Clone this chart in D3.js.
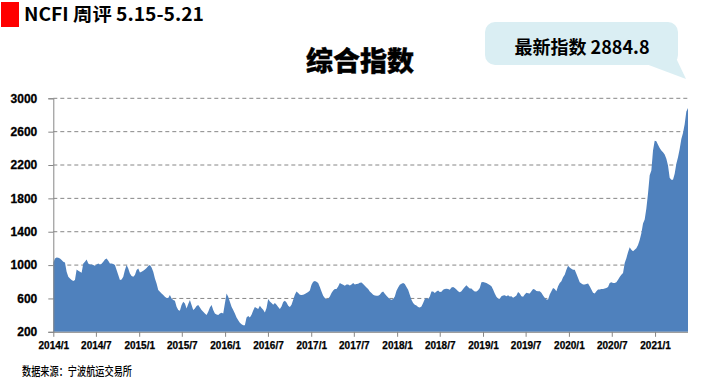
<!DOCTYPE html>
<html><head><meta charset="utf-8">
<script src="https://cdn.jsdelivr.net/npm/d3@7"></script>
<style>
html,body{margin:0;padding:0;background:#fff;}
svg{display:block;}
</style></head>
<body>
<svg id="c" width="726" height="384"></svg>
<script>
// ---------------- data ----------------
const headerTitle = "NCFI 周评 5.15-5.21";
const chartTitle = "综合指数";
const calloutText = "最新指数 2884.8";
const sourceText = "数据来源：宁波航运交易所";
const startDate = "2014-01-01";
const endDate = "2021-05-21";
const yTicks = [200, 600, 1000, 1400, 1800, 2200, 2600, 3000];
const xTickLabels = ["2014/1","2014/7","2015/1","2015/7","2016/1","2016/7","2017/1","2017/7","2018/1","2018/7","2019/1","2019/7","2020/1","2020/7","2021/1"];
// weekly composite index values
const values2014_2016 = [1030,1080,1092,1088,1080,1060,1040,1032,920,860,840,820,808,820,948,932,920,908,1020,1040,1068,1020,1008,1008,1000,992,1008,1020,1008,1016,1040,1068,1080,1052,1020,1020,1012,1000,940,880,820,828,860,940,1000,960,900,868,860,880,940,960,912,920,932,948,964,988,1000,972,920,840,780,700,680,660,640,620,604,604,640,600,580,572,500,460,452,520,560,540,480,532,580,520,460,480,508,520,492,460,440,420,400,440,492,520,460,420,408,400,420,428,420,540,660,620,560,500,460,420,372,340,308,292,280,280,372,388,372];
const values2016_2019 = [404,456,496,484,472,512,484,464,432,484,592,564,544,524,544,524,496,472,504,556,572,552,512,496,524,584,644,684,664,644,640,644,652,664,676,696,764,800,808,800,784,736,684,632,604,592,596,624,664,696,712,712,744,784,772,764,752,768,768,756,768,784,768,772,776,788,792,772,752,732,712,684,664,644,636,632,632,644,672,684,656,632,612,592,584,592,624,692,732,764,776,784,772,736,704,644,584,544,524,516,496,492,504,544,592,604,592,624,684,684,664,684,696,676,680,704,712,716,712,704];
const values2019_2021 = [730,738,726,706,686,674,686,714,738,758,738,718,718,698,682,682,698,726,794,798,790,786,774,762,746,706,659,619,595,595,627,635,639,627,639,623,627,607,619,635,678,659,627,619,647,667,663,659,686,714,706,690,686,686,667,635,607,587,587,647,686,726,714,686,746,786,805,853,885,944,992,972,956,944,944,897,845,794,778,766,766,774,778,746,706,667,659,686,706,706,714,714,718,726,738,786,794,786,786,794,825,857,885,905,1024,1083,1155,1214,1183,1167,1183,1202,1242,1302,1381,1500,1548,1679,1858,2076,2135,2373,2492,2484,2444,2404,2373,2353,2326,2274,2195,2048,2024,2024,2095,2214,2294,2393,2512,2583,2690,2841,2884.8];
const values = values2014_2016.concat(values2016_2019, values2019_2021);

// ---------------- layout ----------------
const svg = d3.select("#c");
const plotL = 53.3, plotR = 688, plotT = 98.3, plotB = 331.8;
const parse = d3.timeParse("%Y-%m-%d");
const t0 = parse(startDate), t1 = parse(endDate);
const n = values.length;
const data = values.map((v, i) => ({date: new Date(+t0 + (t1 - t0) * i / (n - 1)), v}));

const x = d3.scaleTime().domain([t0, t1]).range([plotL, plotR]);
const y = d3.scaleLinear().domain([200, 3000]).range([plotB, plotT]);

// header
svg.append("rect").attr("x", 1).attr("y", 2).attr("width", 18).attr("height", 25).attr("fill", "#ff0000");
svg.append("text").attr("x", 24).attr("y", 21)
  .attr("font-family", "'Noto Sans CJK SC', 'Noto Sans', sans-serif")
  .attr("font-weight", "bold").attr("font-size", 18).attr("fill", "#000")
  .attr("textLength", 180).attr("lengthAdjust", "spacingAndGlyphs")
  .text(headerTitle);

// chart title
svg.append("text").attr("x", 360).attr("y", 71).attr("text-anchor", "middle")
  .attr("font-family", "'Noto Sans CJK SC', sans-serif")
  .attr("font-weight", 900).attr("font-size", 27).attr("fill", "#000")
  .attr("stroke", "#000").attr("stroke-width", 0.4)
  .text(chartTitle);

// callout
const cb = svg.append("g");
cb.append("path")
  .attr("d", "M646,64 L686,79 L676,58 Z")
  .attr("fill", "#daeef3");
cb.append("rect").attr("x", 485).attr("y", 22).attr("width", 193).attr("height", 43)
  .attr("rx", 10).attr("fill", "#daeef3");
cb.append("text").attr("x", 582).attr("y", 54).attr("text-anchor", "middle")
  .attr("font-family", "'Noto Sans CJK SC', sans-serif")
  .attr("font-weight", "bold").attr("font-size", 18).attr("fill", "#000")
  .text(calloutText);

// gridlines
svg.append("g").selectAll("line").data(yTicks.filter(d => d > 200)).join("line")
  .attr("x1", plotL).attr("x2", plotR)
  .attr("y1", d => y(d)).attr("y2", d => y(d))
  .attr("stroke", "#868686").attr("stroke-width", 1).attr("stroke-dasharray", "4,3");

// area
const area = d3.area().x(d => x(d.date)).y0(plotB).y1(d => y(d.v)).curve(d3.curveLinear);
svg.append("path").datum(data).attr("d", area).attr("fill", "#4f81bd");

// y axis
const yAxis = d3.axisLeft(y).tickValues(yTicks).tickSize(5).tickPadding(11).tickFormat(d3.format("d"));
const gy = svg.append("g").attr("transform", `translate(${plotL},0)`).call(yAxis);
gy.select(".domain").attr("stroke", "#868686");
gy.selectAll(".tick line").attr("stroke", "#868686");
gy.selectAll(".tick text").attr("font-family", "'Liberation Sans', Arial, sans-serif")
  .attr("font-weight", "bold").attr("font-size", 12).attr("fill", "#000")
  .attr("stroke", "#000").attr("stroke-width", 0.3);

// x axis
const fmt = d3.timeFormat("%Y/%-m");
const xTicks = xTickLabels.map(s => d3.timeParse("%Y/%m")(s));
const xAxis = d3.axisBottom(x).tickValues(xTicks).tickSize(5).tickPadding(5).tickFormat(fmt);
const gx = svg.append("g").attr("transform", `translate(0,${plotB})`).call(xAxis);
gx.select(".domain").attr("stroke", "#868686").attr("d", `M${plotL},0.5H${plotR}`);
gx.selectAll(".tick line").attr("stroke", "#868686");
gx.selectAll(".tick text").attr("font-family", "'Liberation Sans', Arial, sans-serif")
  .attr("font-weight", "bold").attr("font-size", 10).attr("fill", "#000")
  .attr("stroke", "#000").attr("stroke-width", 0.25);

// source
svg.append("text").attr("x", 22).attr("y", 376)
  .attr("font-family", "'Noto Sans CJK SC', sans-serif")
  .attr("font-size", 12).attr("font-weight", 500).attr("fill", "#000")
  .attr("textLength", 110).attr("lengthAdjust", "spacingAndGlyphs")
  .text(sourceText);
</script>
</body></html>
